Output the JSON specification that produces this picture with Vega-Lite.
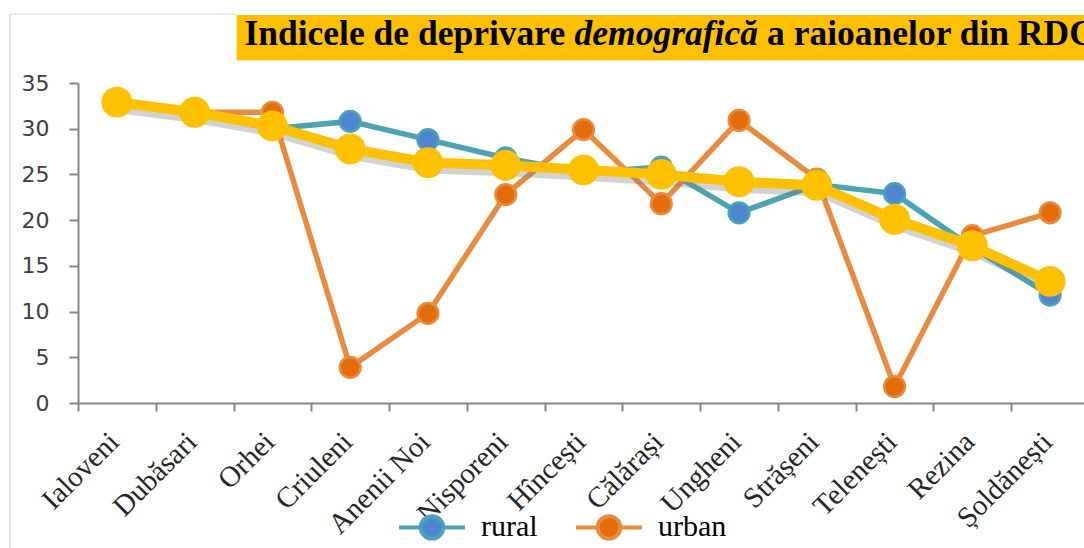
{
  "$schema": "https://vega.github.io/schema/vega-lite/v6.json",
  "autosize": "none",
  "width": 1006,
  "height": 320,
  "padding": {"left": 78, "top": 83, "right": 0, "bottom": 145},
  "background": "white",
  "config": {"view": {"stroke": null}},
  "layer": [
    {
      "data": {"values": [{"t": "title"}]},
      "layer": [
        {
          "mark": {"type": "rule", "color": "#D9D9D9", "strokeWidth": 1.5, "clip": false},
          "encoding": {
            "x": {"datum": -0.874, "type": "quantitative", "scale": {"domain": [0, 13], "range": [0, 1011]}, "axis": null},
            "y": {"datum": 42.55, "type": "quantitative", "scale": {"domain": [0, 35], "nice": false}, "axis": null},
            "y2": {"datum": -16}
          }
        },
        {
          "mark": {"type": "rule", "color": "#E6E6E6", "strokeWidth": 1.5, "clip": false},
          "encoding": {
            "x": {"datum": -0.874, "type": "quantitative"},
            "x2": {"datum": 2.04},
            "y": {"datum": 42.55, "type": "quantitative"}
          }
        },
        {
          "mark": {"type": "rect", "color": "#808080", "opacity": 0.45, "xOffset": 5, "yOffset": 6, "clip": false},
          "encoding": {
            "x": {"datum": 2.04, "type": "quantitative"},
            "x2": {"datum": 13.3},
            "y": {"datum": 42.44, "type": "quantitative"},
            "y2": {"datum": 37.5}
          }
        },
        {
          "mark": {"type": "rect", "color": "#FFC000", "clip": false},
          "encoding": {
            "x": {"datum": 2.04, "type": "quantitative"},
            "x2": {"datum": 13.3},
            "y": {"datum": 42.44, "type": "quantitative"},
            "y2": {"datum": 37.5}
          }
        },
        {
          "mark": {"type": "text", "text": "Indicele de deprivare", "font": "Liberation Serif", "fontSize": 35.5, "fontWeight": "bold", "align": "left", "baseline": "alphabetic", "color": "#000000"},
          "encoding": {
            "x": {"datum": 2.14, "type": "quantitative"},
            "y": {"datum": 39.16, "type": "quantitative"}
          }
        },
        {
          "mark": {"type": "text", "text": "demografică", "font": "Liberation Serif", "fontSize": 35.5, "fontWeight": "bold", "fontStyle": "italic", "align": "left", "baseline": "alphabetic", "color": "#000000"},
          "encoding": {
            "x": {"datum": 6.385, "type": "quantitative"},
            "y": {"datum": 39.16, "type": "quantitative"}
          }
        },
        {
          "mark": {"type": "text", "text": "a raioanelor din RDC", "font": "Liberation Serif", "fontSize": 35.5, "fontWeight": "bold", "align": "left", "baseline": "alphabetic", "color": "#000000"},
          "encoding": {
            "x": {"datum": 8.86, "type": "quantitative"},
            "y": {"datum": 39.16, "type": "quantitative"}
          }
        }
      ]
    },
    {
      "data": {
        "values": [
          {"raion": "Ialoveni", "serie": "rural", "valoare": 32.9},
          {"raion": "Dubăsari", "serie": "rural", "valoare": 31.7},
          {"raion": "Orhei", "serie": "rural", "valoare": 30.0},
          {"raion": "Criuleni", "serie": "rural", "valoare": 30.8},
          {"raion": "Anenii Noi", "serie": "rural", "valoare": 28.8},
          {"raion": "Nisporeni", "serie": "rural", "valoare": 26.8},
          {"raion": "Hîncești", "serie": "rural", "valoare": 25.2},
          {"raion": "Călărași", "serie": "rural", "valoare": 25.8},
          {"raion": "Ungheni", "serie": "rural", "valoare": 20.8},
          {"raion": "Strășeni", "serie": "rural", "valoare": 23.9},
          {"raion": "Telenești", "serie": "rural", "valoare": 22.9},
          {"raion": "Rezina", "serie": "rural", "valoare": 17.0},
          {"raion": "Șoldănești", "serie": "rural", "valoare": 11.8},
          {"raion": "Ialoveni", "serie": "urban", "valoare": 33.0},
          {"raion": "Dubăsari", "serie": "urban", "valoare": 31.8},
          {"raion": "Orhei", "serie": "urban", "valoare": 31.8},
          {"raion": "Criuleni", "serie": "urban", "valoare": 3.9},
          {"raion": "Anenii Noi", "serie": "urban", "valoare": 9.8},
          {"raion": "Nisporeni", "serie": "urban", "valoare": 22.8},
          {"raion": "Hîncești", "serie": "urban", "valoare": 29.9},
          {"raion": "Călărași", "serie": "urban", "valoare": 21.8},
          {"raion": "Ungheni", "serie": "urban", "valoare": 30.9},
          {"raion": "Strășeni", "serie": "urban", "valoare": 24.5},
          {"raion": "Telenești", "serie": "urban", "valoare": 1.8},
          {"raion": "Rezina", "serie": "urban", "valoare": 18.3},
          {"raion": "Șoldănești", "serie": "urban", "valoare": 20.8},
          {"raion": "Ialoveni", "serie": "total", "valoare": 32.9},
          {"raion": "Dubăsari", "serie": "total", "valoare": 31.8},
          {"raion": "Orhei", "serie": "total", "valoare": 30.3},
          {"raion": "Criuleni", "serie": "total", "valoare": 27.8},
          {"raion": "Anenii Noi", "serie": "total", "valoare": 26.3},
          {"raion": "Nisporeni", "serie": "total", "valoare": 26.0},
          {"raion": "Hîncești", "serie": "total", "valoare": 25.5},
          {"raion": "Călărași", "serie": "total", "valoare": 25.0},
          {"raion": "Ungheni", "serie": "total", "valoare": 24.2},
          {"raion": "Strășeni", "serie": "total", "valoare": 23.8},
          {"raion": "Telenești", "serie": "total", "valoare": 20.1},
          {"raion": "Rezina", "serie": "total", "valoare": 17.2},
          {"raion": "Șoldănești", "serie": "total", "valoare": 13.3}
        ]
      },
      "encoding": {
        "x": {
          "field": "raion",
          "type": "nominal",
          "sort": ["Ialoveni", "Dubăsari", "Orhei", "Criuleni", "Anenii Noi", "Nisporeni", "Hîncești", "Călărași", "Ungheni", "Strășeni", "Telenești", "Rezina", "Șoldănești"],
          "scale": {"type": "band", "range": [0, 1011], "paddingInner": 0, "paddingOuter": 0},
          "axis": {
            "orient": "bottom",
            "title": null,
            "tickBand": "extent",
            "domainColor": "#868686",
            "domainWidth": 2,
            "tickColor": "#868686",
            "tickWidth": 2,
            "tickSize": 8,
            "labelAngle": -45,
            "labelAlign": "right",
            "labelBaseline": "top",
            "labelFont": "Liberation Serif",
            "labelFontSize": 29,
            "labelColor": "#262626",
            "labelPadding": 16,
            "labelOffset": -13,
            "labelOverlap": false,
            "labelLimit": 0
          }
        },
        "y": {
          "field": "valoare",
          "type": "quantitative",
          "scale": {"domain": [0, 35], "nice": false},
          "axis": {
            "orient": "left",
            "title": null,
            "values": [0, 5, 10, 15, 20, 25, 30, 35],
            "grid": false,
            "domainColor": "#868686",
            "domainWidth": 2,
            "tickColor": "#868686",
            "tickWidth": 2,
            "tickSize": 9,
            "labelFont": "DejaVu Sans",
            "labelFontSize": 22,
            "labelColor": "#404040",
            "labelPadding": 20
          }
        }
      },
      "layer": [
        {
          "transform": [{"filter": "datum.serie !== 'total'"}],
          "mark": {"type": "line", "strokeWidth": 5.5},
          "encoding": {
            "stroke": {
              "field": "serie",
              "type": "nominal",
              "scale": {"domain": ["rural", "urban"], "range": ["#4BA3B4", "#E98B3F"]},
              "legend": {
                "orient": "none",
                "legendX": 319,
                "legendY": 409,
                "direction": "horizontal",
                "title": null,
                "padding": 0,
                "symbolType": "M-1,0H-0.34M0.34,0H1M0.34,0A0.34,0.34,0,1,1,-0.34,0A0.34,0.34,0,1,1,0.34,0Z",
                "symbolSize": 4356,
                "symbolStrokeWidth": 4,
                "labelFont": "Liberation Serif",
                "labelFontSize": 30,
                "labelColor": "#000000",
                "labelOffset": 14,
                "columnPadding": 30
              }
            }
          }
        },
        {
          "transform": [{"filter": "datum.serie !== 'total'"}],
          "mark": {"type": "point", "shape": "circle", "filled": true, "size": 430, "strokeWidth": 2.5, "opacity": 1},
          "encoding": {
            "fill": {
              "field": "serie",
              "type": "nominal",
              "scale": {"domain": ["rural", "urban"], "range": ["#4F86D2", "#E46C0A"]},
              "legend": {
                "orient": "none",
                "legendX": 319,
                "legendY": 409,
                "direction": "horizontal",
                "title": null,
                "padding": 0,
                "symbolType": "M-1,0H-0.34M0.34,0H1M0.34,0A0.34,0.34,0,1,1,-0.34,0A0.34,0.34,0,1,1,0.34,0Z",
                "symbolSize": 4356,
                "symbolStrokeWidth": 4,
                "labelFont": "Liberation Serif",
                "labelFontSize": 30,
                "labelColor": "#000000",
                "labelOffset": 14,
                "columnPadding": 30
              }
            },
            "stroke": {"field": "serie", "type": "nominal"}
          }
        },
        {
          "transform": [{"filter": "datum.serie === 'total'"}],
          "mark": {"type": "line", "color": "#7F7F7F", "opacity": 0.35, "strokeWidth": 10, "xOffset": 2, "yOffset": 6},
          "encoding": {}
        },
        {
          "transform": [{"filter": "datum.serie === 'total'"}],
          "mark": {"type": "line", "color": "#FFC000", "strokeWidth": 10},
          "encoding": {}
        },
        {
          "transform": [{"filter": "datum.serie === 'total'"}],
          "mark": {"type": "point", "shape": "circle", "filled": true, "color": "#FFC000", "size": 950, "opacity": 1},
          "encoding": {}
        }
      ]
    }
  ],
  "resolve": {"scale": {"x": "independent", "y": "independent"}}
}
